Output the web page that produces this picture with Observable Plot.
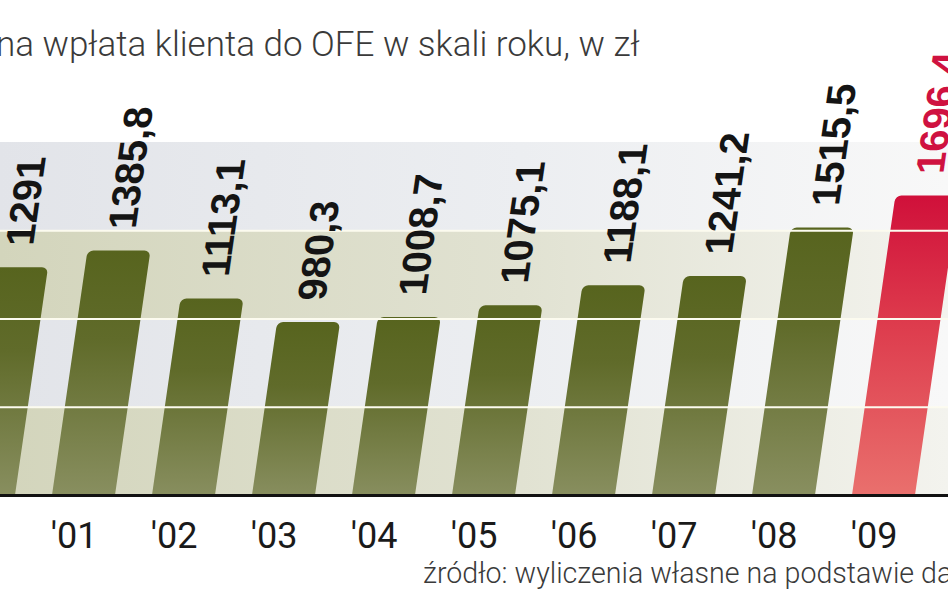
<!DOCTYPE html>
<html lang="pl">
<head>
<meta charset="utf-8">
<script src="https://cdn.jsdelivr.net/npm/d3@7"></script>
<script src="https://cdn.jsdelivr.net/npm/@observablehq/plot@0.6"></script>
<style>
  html, body { margin: 0; padding: 0; background: #fff; width: 948px; height: 593px; overflow: hidden; }
  #title { position: relative; height: 60px; white-space: nowrap; }
  #title span { position: absolute; left: -4px; top: 27px; font-family: Roboto, "Liberation Sans", sans-serif; font-weight: 300; font-size: 35px; line-height: 35px; color: #3a3a3a; }
  #chart { height: 500px; }
  #chart svg { overflow: visible; display: block; }
  #source { position: relative; height: 33px; white-space: nowrap; overflow: hidden; }
  #source span { position: absolute; left: 423px; top: -1px; font-family: Roboto, "Liberation Sans", sans-serif; font-weight: 300; font-size: 28.6px; line-height: 28px; color: #3a3a3a; }
</style>
</head>
<body>
<div id="title"><span>na wpłata klienta do OFE w skali roku, w zł</span></div>
<div id="chart"></div>
<div id="source"><span>źródło: wyliczenia własne na podstawie danych</span></div>
<script>
// ---- data ----
const years  = ["'00", "'01", "'02", "'03", "'04", "'05", "'06", "'07", "'08", "'09"];
const values = [1291, 1385.8, 1113.1, 980.3, 1008.7, 1075.1, 1188.1, 1241.2, 1515.5, 1696.4];
const valueLabels = ["1291", "1385,8", "1113,1", "980,3", "1008,7", "1075,1", "1188,1", "1241,2", "1515,5", "1696,4"];
const highlightYears = ["'09"];
const bandFrom = [0, 500, 1000, 1500];
const bandTo   = [500, 1000, 1500, 2000];
const bandKind = ["olive", "gray", "olive", "gray"];
const gridValues = [500, 1000, 1500];

const data = years.map((year, i) => ({
  year, value: values[i], label: valueLabels[i], red: highlightYears.includes(year)
}));
const bands = bandFrom.map((lo, i) => ({lo, hi: bandTo[i], kind: bandKind[i]}));

const chart = Plot.plot({
  width: 948,
  height: 500,
  marginTop: 82,
  marginBottom: 65,
  marginLeft: 0,
  marginRight: 0,
  style: {overflow: "visible", background: "transparent"},
  x: {domain: years, range: [-68, 935], paddingInner: 0.37, paddingOuter: 0.185, label: null, axis: null},
  y: {domain: [0, 2000], axis: null, label: null},
  color: {type: "identity"},
  marks: [
    Plot.rect(bands, {y1: "lo", y2: "hi", fill: d => d.kind === "olive" ? "url(#bandOlive)" : "url(#bandGray)"}),
    Plot.barY(data, {x: "year", y: "value", rx: 6, insetBottom: -10,
      fill: d => d.red ? "url(#barRed)" : "url(#barOlive)"}),
    Plot.ruleY(gridValues, {stroke: "#fcfbef", strokeWidth: 2}),
    Plot.text(data, {x: "year", y: "value", text: "label", rotate: -90, textAnchor: "start", dy: -22,
      fontSize: 40, fontWeight: "bold", fontFamily: "Liberation Sans, Arial, sans-serif",
      fill: d => d.red ? "#cf1240" : "#141414"}),
    Plot.ruleY([0], {stroke: "#111", strokeWidth: 3}),
    Plot.axisX({tickSize: 0, tickPadding: 27, dx: -10, fontSize: 36, label: null,
      fontFamily: "Roboto, Liberation Sans, sans-serif", fill: "#1a1a1a"})
  ]
});

document.getElementById("chart").appendChild(chart);

// ---- gradients, skew and clipping (styling only) ----
const svg = d3.select(chart);
const defs = svg.insert("defs", ":first-child");
function grad(id, horizontal, stops) {
  const g = defs.append("linearGradient").attr("id", id)
    .attr("x1", 0).attr("y1", 0).attr("x2", horizontal ? 1 : 0).attr("y2", horizontal ? 0 : 1);
  stops.forEach(([o, c]) => g.append("stop").attr("offset", o).attr("stop-color", c));
}
grad("bandOlive", true, [[0, "#d3d5bc"], [0.55, "#e1e2d2"], [1, "#f3f3ee"]]);
grad("bandGray", true, [[0, "#e2e4e9"], [0.55, "#eceef1"], [1, "#f8f8f8"]]);
grad("barOlive", false, [[0, "#57641e"], [0.35, "#606b2a"], [1, "#8b9163"]]);
grad("barRed", false, [[0, "#d0103a"], [0.4, "#dd3a4c"], [1, "#ea736f"]]);

const y0 = chart.scale("y").apply(0);
const k = 0.145;
const skew = `translate(${(k * y0).toFixed(2)},0) skewX(${(-Math.atan(k) * 180 / Math.PI).toFixed(3)})`;

defs.append("clipPath").attr("id", "aboveBase").attr("clipPathUnits", "userSpaceOnUse")
  .append("rect").attr("x", -2000).attr("y", -2000).attr("width", 5000).attr("height", 2000 + y0);

const barG = svg.selectAll('g[aria-label="bar"]');
const textG = svg.selectAll('g[aria-label="text"]');
[barG, textG].forEach(sel => sel.each(function () {
  const w = document.createElementNS("http://www.w3.org/2000/svg", "g");
  this.parentNode.insertBefore(w, this);
  w.appendChild(this);
  w.setAttribute("transform", skew);
}));
barG.attr("clip-path", "url(#aboveBase)");
</script>
</body>
</html>
